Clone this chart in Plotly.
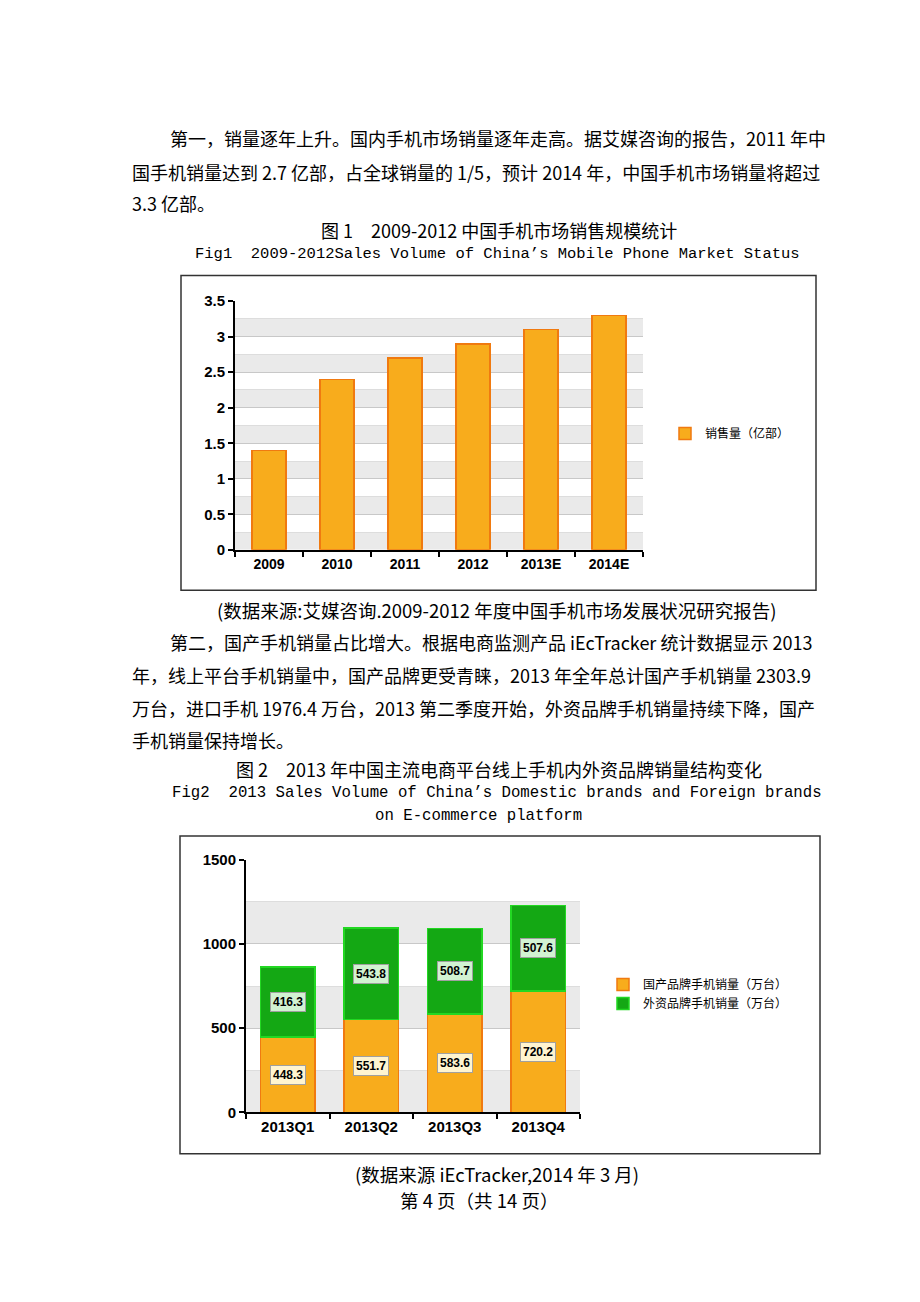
import plotly.graph_objects as go

# ---------------- data ----------------
years = ["2009", "2010", "2011", "2012", "2013E", "2014E"]
sales = [1.4, 2.4, 2.7, 2.9, 3.1, 3.3]
sales_name = "销售量（亿部）"

quarters = ["2013Q1", "2013Q2", "2013Q3", "2013Q4"]
domestic = [448.3, 551.7, 583.6, 720.2]
foreign = [416.3, 543.8, 508.7, 507.6]
domestic_name = "国产品牌手机销量（万台）"
foreign_name = "外资品牌手机销量（万台）"

para1 = [
    "第一，销量逐年上升。国内手机市场销量逐年走高。据艾媒咨询的报告，2011 年中",
    "国手机销量达到 2.7 亿部，占全球销量的 1/5，预计 2014 年，中国手机市场销量将超过",
    "3.3 亿部。",
]
cap1_cn = "图 1　2009-2012 中国手机市场销售规模统计"
cap1_en = "Fig1  2009-2012Sales Volume of China’s Mobile Phone Market Status"
src1 = "(数据来源:艾媒咨询.2009-2012 年度中国手机市场发展状况研究报告)"
para2 = [
    "第二，国产手机销量占比增大。根据电商监测产品 iEcTracker 统计数据显示 2013",
    "年，线上平台手机销量中，国产品牌更受青睐，2013 年全年总计国产手机销量 2303.9",
    "万台，进口手机 1976.4 万台，2013 第二季度开始，外资品牌手机销量持续下降，国产",
    "手机销量保持增长。",
]
cap2_cn = "图 2　2013 年中国主流电商平台线上手机内外资品牌销量结构变化"
cap2_en = ["Fig2  2013 Sales Volume of China’s Domestic brands and Foreign brands",
           "on E-commerce platform"]
src2 = "(数据来源 iEcTracker,2014 年 3 月)"
footer = "第 4 页（共 14 页）"

# ---------------- layout helpers ----------------
W, H = 920, 1302
def px(x): return x / W
def py(y): return 1 - y / H

CJK = "Noto Sans CJK SC"
MONO = "Liberation Mono"
AX = "Liberation Sans"

ORANGE = "#F8AC1C"
ORANGE_LINE = "#F07A10"
GREEN = "#14A814"
GREEN_LINE = "#22D822"

fig = go.Figure()

fig.add_trace(go.Bar(
    x=years, y=sales, name=sales_name, width=0.5,
    marker=dict(color=ORANGE, line=dict(color=ORANGE_LINE, width=1.5)),
    xaxis="x", yaxis="y", legend="legend"))

fig.add_trace(go.Bar(
    x=quarters, y=domestic, name=domestic_name, width=0.65,
    marker=dict(color=ORANGE, line=dict(color=ORANGE_LINE, width=1.5)),
    xaxis="x2", yaxis="y2", legend="legend2"))
fig.add_trace(go.Bar(
    x=quarters, y=foreign, name=foreign_name, width=0.65,
    marker=dict(color=GREEN, line=dict(color=GREEN_LINE, width=1.5)),
    xaxis="x2", yaxis="y2", legend="legend2"))

annotations = []
# data labels for stacked chart
for q, d, f in zip(quarters, domestic, foreign):
    annotations.append(dict(x=q, y=d / 2, xref="x2", yref="y2", text=f"{d:.1f}",
                            showarrow=False, bgcolor="#FFF4D0", bordercolor="#A0A0A0",
                            borderwidth=1, borderpad=2,
                            font=dict(family=AX, size=12, color="black", weight=700)))
    annotations.append(dict(x=q, y=d + f / 2, xref="x2", yref="y2", text=f"{f:.1f}",
                            showarrow=False, bgcolor="#D2F2D2", bordercolor="#A0A0A0",
                            borderwidth=1, borderpad=2,
                            font=dict(family=AX, size=12, color="black", weight=700)))

def txt(text, x, y, anchor="left", size=18, family=CJK):
    annotations.append(dict(text=text, x=px(x), y=py(y), xref="paper", yref="paper",
                            xanchor=anchor, yanchor="middle", showarrow=False,
                            font=dict(family=family, size=size, color="black")))

txt(para1[0], 168, 131)
txt(para1[1], 130, 165)
txt(para1[2], 130, 197)
txt(cap1_cn, 499, 224, "center", 18)
txt(cap1_en, 497, 248, "center", 15.5, MONO)
txt(src1, 497, 609, "center", 18.5)
txt(para2[0], 168, 641)
txt(para2[1], 130, 675)
txt(para2[2], 130, 708)
txt(para2[3], 130, 741)
txt(cap2_cn, 499, 770, "center", 18)
txt(cap2_en[0], 497, 794, "center", 15.7, MONO)
txt(cap2_en[1], 478, 818, "center", 15.7, MONO)
txt(src2, 497, 1180, "center", 18.5)
txt(footer, 479, 1207, "center", 18.5)

shapes = []
# frames around charts
shapes.append(dict(type="rect", xref="paper", yref="paper", x0=px(181), x1=px(816),
                   y0=py(589), y1=py(270), line=dict(color="#333333", width=1.5)))
shapes.append(dict(type="rect", xref="paper", yref="paper", x0=px(180), x1=px(820),
                   y0=py(1160), y1=py(838), line=dict(color="#333333", width=1.5)))

# alternating background bands (from major tick to half step above)
def bands(yref, xref, top, step):
    k = 0.0
    while k < top - 1e-9:
        shapes.append(dict(type="rect", xref=xref + " domain", yref=yref, x0=0, x1=1,
                           y0=k, y1=k + step / 2, fillcolor="#EAEAEA",
                           line=dict(width=0), layer="below"))
        k += step
bands("y", "x", 3.5, 0.5)
bands("y2", "x2", 1500, 500)

axis_common = dict(showline=True, linecolor="black", linewidth=2, ticks="outside",
                   tickcolor="black", tickwidth=2, ticklen=5)

fig.update_layout(
    width=W, height=H, margin=dict(l=0, r=0, t=0, b=0),
    paper_bgcolor="white", plot_bgcolor="white",
    barmode="stack", showlegend=True,
    xaxis=dict(domain=[px(235), px(643)], anchor="y", tickson="boundaries",
               tickfont=dict(family=AX, size=14, color="black", weight=700),
               showgrid=False, **axis_common),
    yaxis=dict(domain=[py(548), py(296)], anchor="x", range=[0, 3.5], dtick=0.5,
               tickfont=dict(family=AX, size=15, color="black", weight=700),
               showgrid=True, gridcolor="#C8C8C8", gridwidth=1, zeroline=False,
               minor=dict(dtick=0.25, showgrid=True, gridcolor="#DDDDDD", ticks=""),
               **axis_common),
    xaxis2=dict(domain=[px(246), px(580)], anchor="y2", tickson="boundaries",
                tickfont=dict(family=AX, size=15, color="black", weight=700),
                showgrid=False, **axis_common),
    yaxis2=dict(domain=[py(1118), py(862)], anchor="x2", range=[0, 1500], dtick=500,
                tickfont=dict(family=AX, size=15, color="black", weight=700),
                showgrid=True, gridcolor="#C8C8C8", gridwidth=1, zeroline=False,
                minor=dict(dtick=250, showgrid=True, gridcolor="#DDDDDD", ticks=""),
                **axis_common),
    legend=dict(x=px(665), y=py(430), xanchor="left", yanchor="middle",
                font=dict(family=CJK, size=12, color="black"), itemwidth=30,
                bgcolor="rgba(0,0,0,0)"),
    legend2=dict(x=px(603), y=py(998), xanchor="left", yanchor="middle",
                 font=dict(family=CJK, size=12, color="black"), itemwidth=30,
                 traceorder="normal", tracegroupgap=0, bgcolor="rgba(0,0,0,0)"),
    annotations=annotations, shapes=shapes,
)

fig.write_html("out.html", config={"displayModeBar": False},
               post_script="document.body.style.margin='0px';document.body.style.padding='0px';")
